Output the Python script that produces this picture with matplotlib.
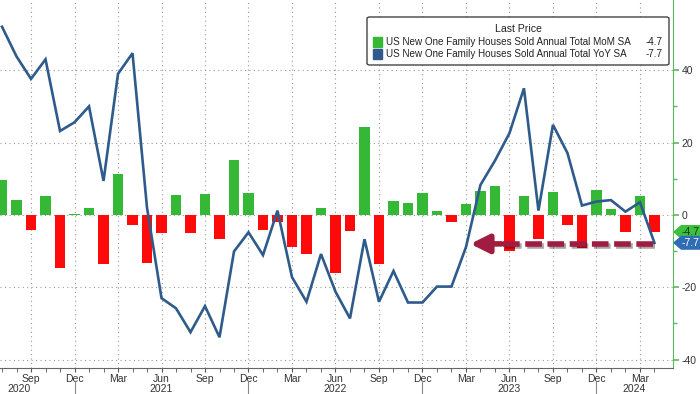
import numpy as np
import matplotlib
matplotlib.use('Agg')
import matplotlib.pyplot as plt
import matplotlib.transforms as mtransforms
import matplotlib.patheffects as pe
from matplotlib.patches import FancyBboxPatch, Polygon, Rectangle

# Monthly data, Jul 2020 .. Apr 2024
month_names = ['Jan', 'Feb', 'Mar', 'Apr', 'May', 'Jun',
               'Jul', 'Aug', 'Sep', 'Oct', 'Nov', 'Dec']
start_year, start_month = 2020, 7

mom = [9.7, 4.0, -4.1, 5.3, -14.8, 0.2,
       2.0, -13.5, 11.2, -2.7, -13.4, -5.0, 5.5, -4.9, 5.8, -6.6, 15.3, 6.0,
       -4.1, -2.0, -8.8, -10.8, 1.8, -16.1, -4.4, 24.2, -13.5, 3.9, 3.4, 6.0,
       1.2, -2.0, 3.0, 6.6, 7.9, -10.0, 5.1, -6.7, 6.4, -2.8, -9.1, 6.9,
       1.6, -4.8, 5.3, -4.7]
yoy = [52.0, 43.8, 37.6, 43.0, 23.2, 25.6,
       30.0, 9.4, 39.0, 44.7, 2.0, -23.0, -25.8, -32.4, -25.2, -33.8, -10.1, -4.8,
       -11.1, 1.2, -17.2, -24.0, -10.8, -21.2, -28.6, -6.7, -24.0, -15.5, -24.2, -24.2,
       -19.8, -19.8, -8.9, 8.3, 15.0, 22.6, 35.0, 1.2, 24.9, 17.1, 2.6, 3.7,
       4.1, 0.9, 3.5, -7.7]

mom_label = 'US New One Family Houses Sold Annual Total MoM SA'
yoy_label = 'US New One Family Houses Sold Annual Total YoY SA'
year_labels = ['2020', '2021', '2022', '2023', '2024']
year_label_pos = [1.2, 11, 23, 35, 43.6]

GREEN = '#35b835'
RED = '#ff0a0a'
BLUE = '#2e5b8c'
MAROON = '#a01c40'
AXGREEN = '#5cb85c'

plt.rcParams['font.family'] = ['Liberation Sans', 'DejaVu Sans']
plt.rcParams['axes.unicode_minus'] = False

n = len(yoy)
x = np.arange(n)
months = [(start_month - 1 + i) % 12 + 1 for i in range(n)]

fig = plt.figure(figsize=(7, 3.94), dpi=100)
ax = fig.add_axes([0, 26 / 394, 673 / 700, 368 / 394])

# bars and line
ax.bar(x, mom, width=0.7, color=[GREEN if v >= 0 else RED for v in mom], zorder=2)
ax.plot(x, yoy, color=BLUE, lw=1.9, zorder=3, solid_joinstyle='miter')

ax.set_xlim(-0.14, 46.28)
ax.set_ylim(-42.3, 59.4)

# grid
for yv in [-40, -20, 0, 20, 40]:
    ax.axhline(yv, color='#9a9a9a', lw=0.8, ls=(0, (1, 3)), zorder=1)
quarter_idx = [i for i in range(n) if months[i] in (3, 6, 9, 12)]
for xi in quarter_idx:
    ax.axvline(xi, color='#9a9a9a', lw=0.8, ls=(0, (1, 3)), zorder=1)

# x axis
ax.set_xticks(quarter_idx)
ax.set_xticklabels([month_names[months[i] - 1] for i in quarter_idx])
ax.set_xticks(x, minor=True)
ax.tick_params(axis='x', which='both', length=3, color='#555555', labelsize=7.5,
               labelcolor='#333333', pad=1.5)

# y axis on the right
ax.yaxis.tick_right()
ax.set_yticks([-40, -20, 0, 20, 40])
ax.set_yticks([-30, -10, 10, 30], minor=True)
ax.tick_params(axis='y', which='major', length=4.5, width=1.2, color=AXGREEN,
               labelsize=7.5, labelcolor='#333333', pad=1.5)
ax.tick_params(axis='y', which='minor', length=3, width=1, color=AXGREEN)
ax.spines['top'].set_visible(False)
ax.spines['left'].set_visible(False)
ax.spines['right'].set_color(AXGREEN)
ax.spines['bottom'].set_color('#666666')

# year row
bt = mtransforms.blended_transform_factory(ax.transData, ax.transAxes)
for lab, pos in zip(year_labels, year_label_pos):
    ax.text(pos, -0.057, lab, transform=bt, ha='center', va='center',
            fontsize=7.5, color='#333333')
for i in range(n):
    if months[i] == 12:
        ax.plot([i, i], [-0.035, -0.075], transform=bt, color='#888888',
                lw=0.8, clip_on=False)

# legend box
fx = lambda px: px / 700
fy = lambda py: 1 - py / 394
box = FancyBboxPatch((fx(367), fy(65)), fx(669) - fx(367), fy(17) - fy(65),
                     boxstyle='round,pad=0,rounding_size=0.004',
                     transform=fig.transFigure, facecolor='white',
                     edgecolor='#444444', lw=1, zorder=10)
fig.patches.append(box)
fig.text(fx(518), fy(29), 'Last Price', ha='center', va='center', fontsize=7.6,
         color='#222222', zorder=11)
for py, col, lab, val in [(42, GREEN, mom_label, mom[-1]), (54, BLUE, yoy_label, yoy[-1])]:
    fig.patches.append(Rectangle((fx(373), fy(py + 4.5)), fx(9), 9 / 394,
                                 transform=fig.transFigure, color=col, zorder=11))
    fig.text(fx(386), fy(py), lab, ha='left', va='center', fontsize=7.1,
             color='#222222', zorder=11)
    fig.text(fx(663), fy(py), f'{val:.1f}', ha='right', va='center', fontsize=7.1,
             color='#222222', zorder=11)

# last value tags on the right axis
tt = mtransforms.blended_transform_factory(ax.transAxes, ax.transData)
upp = 1 / 3.62  # data units per pixel
for val, col, tcol in [(mom[-1], '#3fbf3f', '#1a3a1a'), (yoy[-1], '#2f6db4', 'white')]:
    h = 7 * upp
    poly = Polygon([(1.0, val), (1.012, val + h), (1.05, val + h),
                    (1.05, val - h), (1.012, val - h)], closed=True,
                   transform=tt, facecolor=col, edgecolor='none',
                   clip_on=False, zorder=12)
    ax.add_patch(poly)
    ax.text(1.013, val, f'{val:.1f}', transform=tt, ha='left', va='center',
            fontsize=7.5, color=tcol, clip_on=False, zorder=13)

# highlight arrow
ya = yoy[-1] - 0.3
shadow = [pe.SimpleLineShadow(offset=(1.5, -1.5), alpha=0.35), pe.Normal()]
ax.plot([34.55, n - 1], [ya, ya], color=MAROON, lw=4, ls=(0, (3.0, 1.0)),
        dash_capstyle='butt', zorder=6, path_effects=shadow)
ax.annotate('', xy=(32.3, ya), xytext=(34.45, ya),
            arrowprops=dict(arrowstyle='-|>,head_length=1.1,head_width=0.55',
                            color=MAROON, lw=4, shrinkA=0, shrinkB=0,
                            path_effects=[pe.SimplePatchShadow(offset=(1.5, -1.5), alpha=0.35), pe.Normal()]),
            zorder=6)

fig.savefig('out.png', dpi=100)
